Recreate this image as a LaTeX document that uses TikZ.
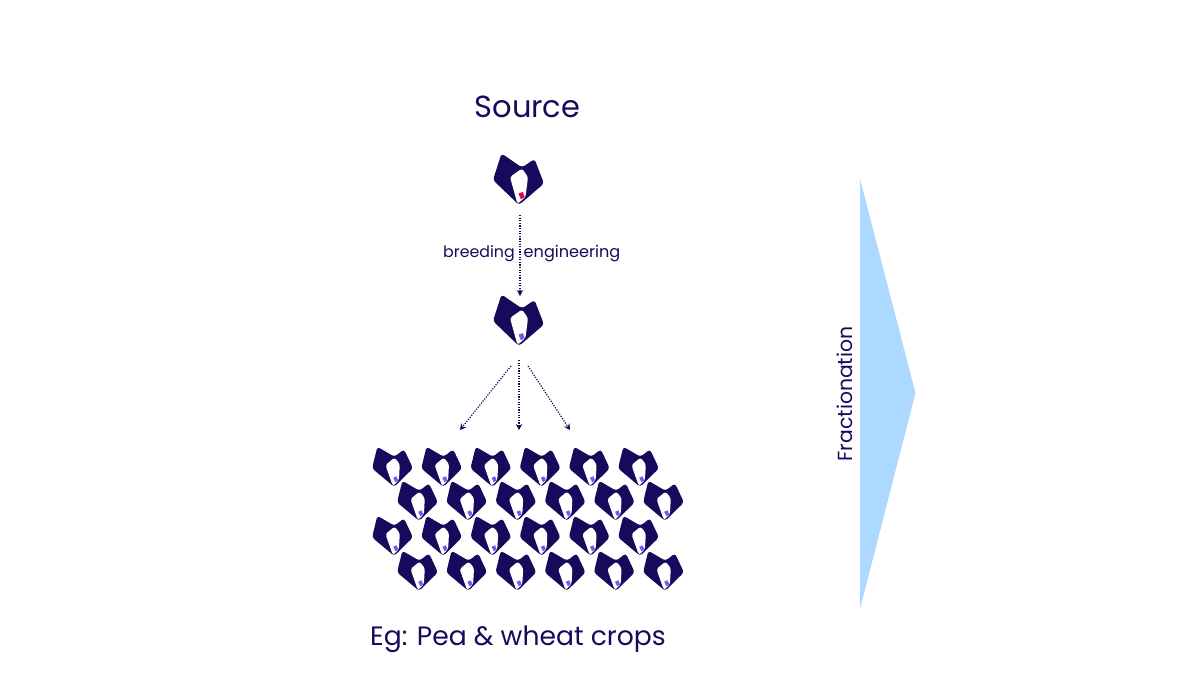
\documentclass[tikz,border=0pt]{standalone}
\usepackage{fontspec}
\setmainfont{Poppins}
\usetikzlibrary{arrows.meta}
\definecolor{inkblue}{HTML}{160A5C}
\definecolor{hotred}{HTML}{E6004C}
\definecolor{violet}{HTML}{6A5CF5}
\definecolor{paleblue}{HTML}{ADD8FF}
\tikzset{
	plant/.pic={
		\fill[inkblue,rounded corners=3pt] (-16.5,-26.5) -- (-25,0) -- (1,25) -- (26,3.5) -- (16.5,-21) -- (4,-12.5) -- cycle;
		\fill[white,rounded corners=2.5pt] (4,-11.5) -- (-8,-3) -- (-0.5,24) -- (7.5,17) -- (10,-3) -- cycle;
		\fill[#1] (0.5,13.5) -- (5,12) -- (6.5,17) -- (3,19.5) -- cycle;
	},
	flow/.style={inkblue,line width=1.2pt,dash pattern=on 1.2pt off 1.4pt,-{Stealth[length=6pt,width=6.5pt]}},
	label/.style={text=inkblue,inner sep=0pt},
}
\begin{document}
\begin{tikzpicture}[x=1pt,y=-1pt]
	\useasboundingbox (0,0) rectangle (1200,700);

	\node[label,font=\fontsize{30.5}{34}\selectfont] (source) at (527.5,107) {Source};

	\pic at (518,180) {plant=hotred};
	\pic at (518,321) {plant=violet};

	\coordinate (a1) at (520,215);
	\coordinate (a2) at (520,296);
	\coordinate (b0) at (511,366);
	\coordinate (b1) at (460,430);
	\coordinate (c0) at (519,360);
	\coordinate (c1) at (519,430);
	\coordinate (d0) at (528,366);
	\coordinate (d1) at (570,430);

	\path [flow] (a1) edge (a2);
	\path [flow] (b0) edge (b1);
	\path [flow] (c0) edge (c1);
	\path [flow] (d0) edge (d1);

	\node[label,font=\fontsize{15.8}{20}\selectfont] (breeding) at (479,253.5) {breeding};
	\node[label,font=\fontsize{16.1}{20}\selectfont] (engineering) at (572,253.5) {engineering};

	% field of crops
	\foreach \yy in {467,536}
		\foreach \col in {0,...,5}
			\pic[scale=0.8,rotate=4] at (392+49.2*\col,\yy) {plant=violet};
	\foreach \yy in {501,571}
		\foreach \col in {0,...,5}
			\pic[scale=0.8,rotate=4] at (417+49.2*\col,\yy) {plant=violet};

	\node[label,font=\fontsize{26.6}{30}\selectfont] (crops) at (518,639) {Eg: Pea \& wheat crops};

	\fill[paleblue] (860,179) -- (915.5,393) -- (860,609) -- cycle;
	\node[label,rotate=90,font=\fontsize{20.4}{25}\selectfont] (frac) at (845,394) {Fractionation};
\end{tikzpicture}
\end{document}
